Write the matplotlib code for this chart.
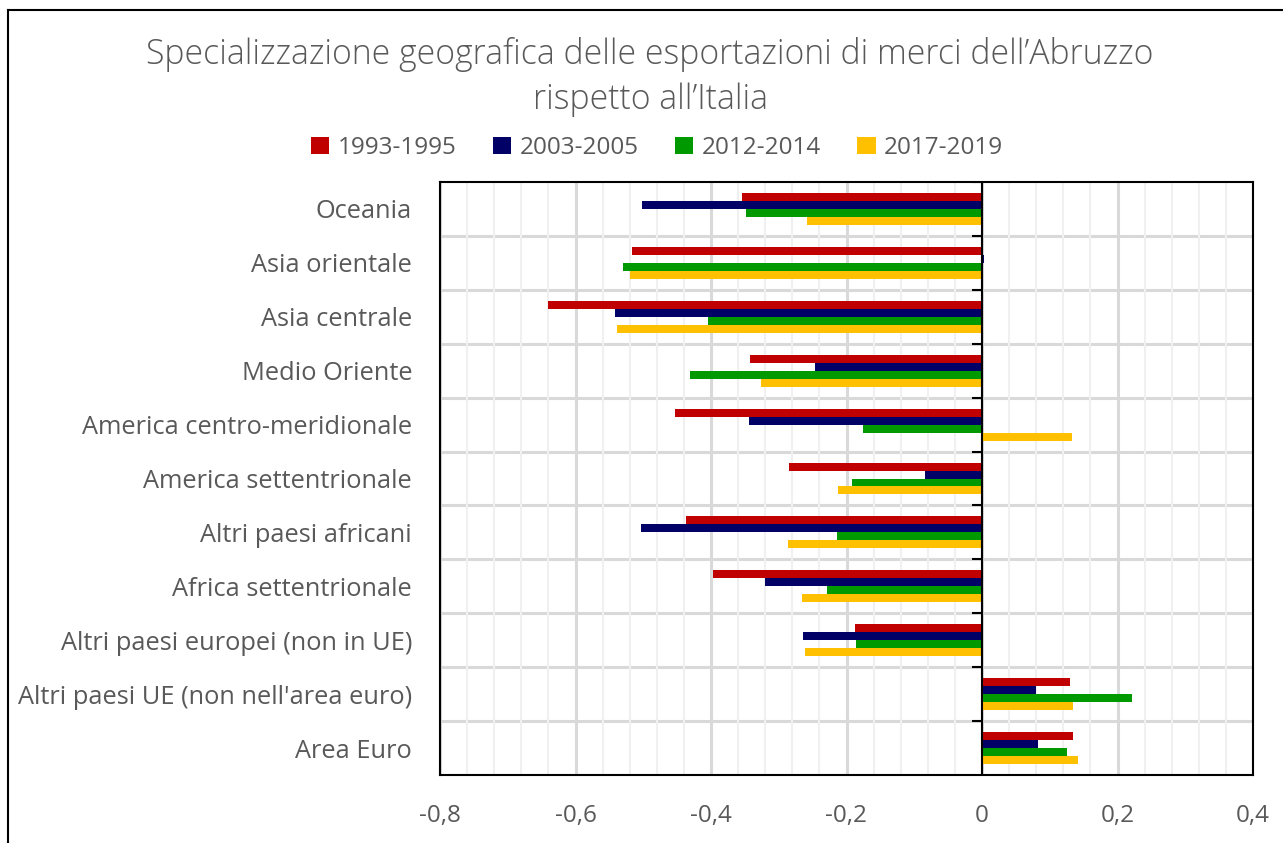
import numpy as np
import matplotlib.pyplot as plt
from matplotlib.lines import Line2D
from matplotlib.ticker import MultipleLocator, FixedLocator

# Categories from bottom to top
categories = ['Area Euro', "Altri paesi UE (non nell'area euro)", 'Altri paesi europei (non in UE)',
              'Africa settentrionale', 'Altri paesi africani', 'America settentrionale',
              'America centro-meridionale', 'Medio Oriente', 'Asia centrale', 'Asia orientale', 'Oceania']

periods = ['1993-1995', '2003-2005', '2012-2014', '2017-2019']

v_1993 = [0.134, 0.130, -0.187, -0.397, -0.437, -0.285, -0.453, -0.342, -0.641, -0.517, -0.354]
v_2003 = [0.082, 0.080, -0.264, -0.320, -0.503, -0.084, -0.344, -0.246, -0.542, 0.003, -0.502]
v_2012 = [0.125, 0.222, -0.186, -0.229, -0.214, -0.192, -0.176, -0.431, -0.404, -0.530, -0.349]
v_2017 = [0.141, 0.135, -0.261, -0.266, -0.286, -0.213, 0.133, -0.326, -0.539, -0.519, -0.259]

colors = ['#C00000', '#000066', '#009900', '#FFC000']
series = [v_1993, v_2003, v_2012, v_2017]

tick_vals = [-0.8, -0.6, -0.4, -0.2, 0, 0.2, 0.4]
tick_labels = ['-0,8', '-0,6', '-0,4', '-0,2', '0', '0,2', '0,4']

plt.rcParams['font.family'] = ['Open Sans', 'DejaVu Sans']
text_col = '#595959'

fig = plt.figure(figsize=(12.83, 8.43), dpi=100)
ax = fig.add_axes([440 / 1283, 1 - 775 / 843, (1253 - 440) / 1283, (775 - 182) / 843])

y = np.arange(len(categories))
h = 0.148
offsets = [1.5 * h, 0.5 * h, -0.5 * h, -1.5 * h]
for vals, col, off, lab in zip(series, colors, offsets, periods):
    ax.barh(y + off, vals, height=h, color=col, label=lab, zorder=3)

ax.set_xlim(-0.8, 0.4)
ax.set_ylim(-0.5, len(categories) - 0.5)

# grid
ax.xaxis.set_major_locator(FixedLocator(tick_vals))
ax.xaxis.set_minor_locator(MultipleLocator(0.04))
ax.grid(axis='x', which='major', color='#d9d9d9', lw=2.2, zorder=0)
ax.grid(axis='x', which='minor', color='#f0f0f0', lw=1.5, zorder=0)
bounds = np.arange(len(categories) + 1) - 0.5
for b in bounds[1:-1]:
    ax.axhline(b, color='#d9d9d9', lw=2.2, zorder=1)

# zero axis with tick marks at category boundaries
ax.axvline(0, color='black', lw=1.5, zorder=4)
ax.hlines(bounds[1:], -0.015, 0, color='black', lw=1.5, zorder=4)

ax.set_xticks(tick_vals)
ax.set_xticklabels(tick_labels)
ax.set_yticks(y)
ax.set_yticklabels(categories)
ax.tick_params(axis='x', which='both', length=0, pad=21, labelsize=17.5, labelcolor=text_col)
ax.tick_params(axis='y', length=0, pad=20, labelsize=18.3, labelcolor=text_col)

for s in ax.spines.values():
    s.set_color('black')
    s.set_linewidth(1.5)

fig.text(650 / 1283, 1 - 55 / 843, 'Specializzazione geografica delle esportazioni di merci dell\u2019Abruzzo',
         ha='center', va='center', fontsize=24.3, color=text_col, fontweight='light')
fig.text(650 / 1283, 1 - 100 / 843, 'rispetto all\u2019Italia',
         ha='center', va='center', fontsize=24.3, color=text_col, fontweight='light')

fig.legend(loc='center', bbox_to_anchor=(657 / 1283, 1 - 148 / 843), ncol=4, frameon=False,
           fontsize=17.5, labelcolor=text_col, handlelength=0.75, handleheight=0.75,
           handletextpad=0.35, columnspacing=1.5)

# outer border
fig.add_artist(Line2D([8 / 1283, 8 / 1283], [0, 1 - 10 / 843], color='black', lw=1.5))
fig.add_artist(Line2D([8 / 1283, 1], [1 - 10 / 843, 1 - 10 / 843], color='black', lw=1.5))

fig.savefig('out.png', dpi=100)
